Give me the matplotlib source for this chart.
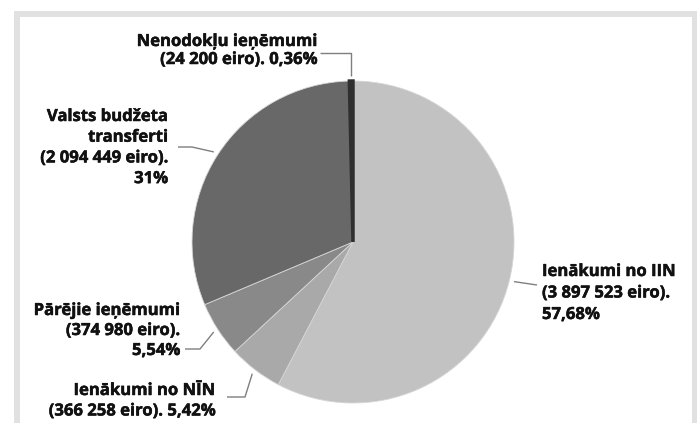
import numpy as np
import matplotlib.pyplot as plt
import matplotlib.patheffects as pe
from matplotlib.patches import Rectangle

# -------------------------------------------------------------
# Data
# -------------------------------------------------------------
categories = ["Ienākumi no IIN", "Ienākumi no NĪN", "Pārējie ieņēmumi",
              "Valsts budžeta transferti", "Nenodokļu ieņēmumi"]
amounts = ["3 897 523", "366 258", "374 980", "2 094 449", "24 200"]
shares = [57.68, 5.42, 5.54, 31.0, 0.36]
share_labels = ["57,68%", "5,42%", "5,54%", "31%", "0,36%"]
colors = ["#c2c2c2", "#a9a9a9", "#898989", "#686868", "#2f2f2f"]

W, H = 700, 423


def Y(y):
    # picture rows run downwards, the axes upwards
    return H - y


fig = plt.figure(figsize=(7.0, 4.23), dpi=100)
ax = fig.add_axes([0, 0, 1, 1])

# light grey frame
ax.add_patch(Rectangle((14, -20), 683, Y(11) + 20, facecolor='#e1e1e1', edgecolor='none', zorder=0))
ax.add_patch(Rectangle((20, -20), 671.5, Y(17) + 20, facecolor='white', edgecolor='none', zorder=0))

cx, cy, r = 353, Y(242), 161
wedges, _ = ax.pie(shares, colors=colors, startangle=90, counterclock=False,
                   center=(cx, cy), radius=r, frame=True,
                   wedgeprops=dict(edgecolor='#d6d6d6', linewidth=0.6))
# the tiny slice is drawn a little thicker, as in the source chart
wedges[-1].set_edgecolor(colors[-1])
wedges[-1].set_linewidth(2.5)

ax.set_xlim(0, W)
ax.set_ylim(0, H)
ax.set_aspect('equal')
ax.axis('off')

label_lines = [
    [categories[0], f"({amounts[0]} eiro).", share_labels[0]],
    [categories[1], f"({amounts[1]} eiro). {share_labels[1]}"],
    [categories[2], f"({amounts[2]} eiro).", share_labels[2]],
    ["Valsts budžeta", "transferti", f"({amounts[3]} eiro).", share_labels[3]],
    [categories[4], f"({amounts[4]} eiro). {share_labels[4]}"],
]
# x of text edge, first baseline, line step (picture px), alignment
text_pos = [(542, 276, 21.5, 'left'),
            (215, 395, 20.5, 'right'),
            (180, 315, 20.0, 'right'),
            (168, 121, 20.7, 'right'),
            (317, 46, 18.0, 'right')]
# leader start and elbow (picture px), None = straight above the pie point
leaders = [[(537, 285)],
           [(227, 397), (245, 397)],
           [(185, 349), (200, 349)],
           [(178, 147), (192, 147)],
           [(320, 53), None]]

bold = [pe.withStroke(linewidth=0.35, foreground='#111111')]

for w, lines, (tx, ty, step, ha), pts in zip(wedges, label_lines, text_pos, leaders):
    mid = np.deg2rad((w.theta1 + w.theta2) / 2)
    px = cx + r * 1.03 * np.cos(mid)
    py = cy + r * 1.03 * np.sin(mid)
    xs = [p[0] if p is not None else px for p in pts] + [px]
    ys = [Y(p[1]) if p is not None else Y(pts[0][1]) for p in pts] + [py]
    ax.plot(xs, ys, color='#7f7f7f', lw=1.0, solid_capstyle='butt')
    for i, line in enumerate(lines):
        ax.text(tx, Y(ty + i * step), line, ha=ha, va='baseline',
                fontsize=12, fontweight='bold', family='Open Sans',
                color='#111111', path_effects=bold)

fig.savefig('out.png', dpi=100)
